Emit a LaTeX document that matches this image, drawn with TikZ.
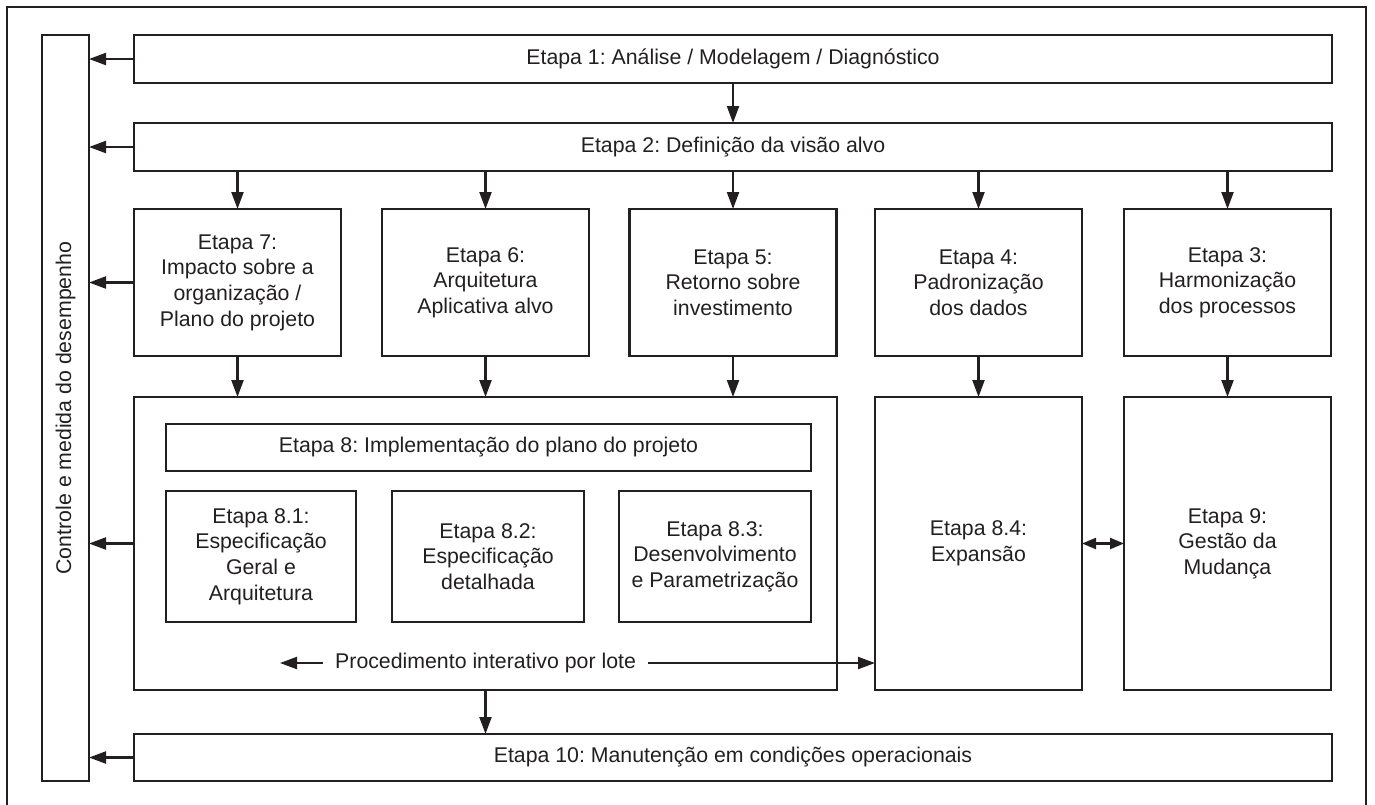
\documentclass[tikz,border=0pt]{standalone}
\usepackage{fontspec}
\setmainfont{Liberation Sans}
\usepackage{xcolor}
\usetikzlibrary{arrows.meta, calc}
\definecolor{ink}{RGB}{35,31,32}
\frenchspacing

\begin{document}
\begin{tikzpicture}[
    x=1pt, y=-1pt,
    every node/.style={font=\fontsize{21.3}{25.6}\selectfont, text=ink},
    stepbox/.style={rectangle, draw=ink, line width=2.2pt, inner sep=0pt, outer sep=0pt, align=center},
    wide/.style={stepbox, minimum width=1198, minimum height=48},
    stage/.style={stepbox, minimum width=207, minimum height=147},
    tall/.style={stepbox, minimum width=207, minimum height=293},
    sub/.style={stepbox, minimum width=192, minimum height=131},
    arrow/.style={-{Triangle[length=17pt, width=12pt]}, line width=2.2pt, draw=ink},
    dblarrow/.style={{Triangle[length=14pt, width=11pt]}-{Triangle[length=14pt, width=11pt]}, line width=2.2pt, draw=ink}
]
\useasboundingbox (0,0) rectangle (1375,804);

% Outer frame
\draw[ink, line width=1.6pt] (7,7) rectangle (1366,812);

% Control column
\node[stepbox, minimum width=47, minimum height=746] (ctrl) at (65.5,408) {};
\node[rotate=90] (ctrllabel) at (ctrl.center) {Controle e medida do desempenho};

% Top stages
\node[wide] (e1) at (733,59) {Etapa 1: Análise / Modelagem / Diagnóstico};
\node[wide] (e2) at (733,147) {Etapa 2: Definição da visão alvo};

% Middle row
\node[stage] (e7) at (237.5,282.5) {Etapa 7:\\Impacto sobre a\\organização /\\Plano do projeto};
\node[stage] (e6) at (485.5,282.5) {Etapa 6:\\Arquitetura\\Aplicativa alvo};
\node[stage] (e5) at (733,282.5) {Etapa 5:\\Retorno sobre\\investimento};
\node[stage] (e4) at (978.5,282.5) {Etapa 4:\\Padronização\\dos dados};
\node[stage] (e3) at (1227.5,282.5) {Etapa 3:\\Harmonização\\dos processos};

% Implementation block
\node[stepbox, minimum width=703, minimum height=293] (e8) at (485.5,543.5) {};
\node[stepbox, minimum width=645, minimum height=47] (e8head) at (488.5,447.5) {Etapa 8: Implementação do plano do projeto};
\node[sub, minimum width=190] (e81) at (261,556.5) {Etapa 8.1:\\Especificação\\Geral e\\Arquitetura};
\node[sub] (e82) at (488,556.5) {Etapa 8.2:\\Especificação\\detalhada};
\node[sub] (e83) at (715,556.5) {Etapa 8.3:\\Desenvolvimento\\e Parametrização};
\node[anchor=west, inner xsep=12pt] (proc) at (323,663) {Procedimento interativo por lote};
\coordinate (procL) at (280,663);

\node[tall] (e84) at (978.5,543.5) {Etapa 8.4:\\Expansão};
\node[tall] (e9) at (1227.5,543.5) {Etapa 9:\\Gestão da\\Mudança};

% Bottom stage
\node[wide, minimum height=47] (e10) at (733,757.5) {Etapa 10: Manutenção em condições operacionais};

% Arrows
\draw[arrow] (e1) -- (e2);
\foreach \s in {e7,e6,e5,e4,e3}
  \draw[arrow] (e2.south -| \s) -- (\s.north);
\foreach \s in {e7,e6,e5}
  \draw[arrow] (\s.south) -- (e8.north -| \s);
\draw[arrow] (e4) -- (e84);
\draw[arrow] (e3) -- (e9);
\draw[arrow] (e8.south) -- (e10.north -| e8);
\draw[dblarrow] (e84.east) -- (e9.west);
\draw[arrow] (proc.west) -- (procL);
\draw[arrow] (proc.east) -- (proc.east -| e84.west);

% Feedback to control column
\foreach \s in {e1,e2,e7,e8,e10}
  \draw[arrow] (\s.west) -- (\s.west -| ctrl.east);

\end{tikzpicture}
\end{document}
